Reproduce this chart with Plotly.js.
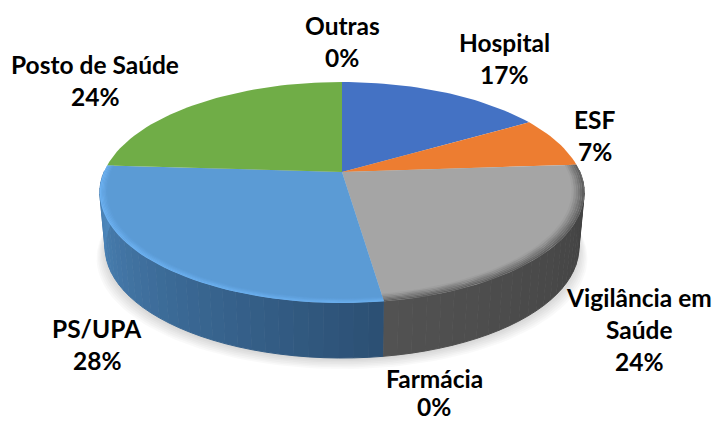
<!DOCTYPE html>
<html>
<head>
<meta charset="utf-8">
<script src="https://cdn.plot.ly/plotly-3.0.1.min.js"></script>
<style>html,body{margin:0;padding:0;background:#fff}#c{width:716px;height:423px}</style>
</head>
<body>
<div id="c"></div>
<script>
var categories = ["Outras", "Hospital", "ESF", "Vigilância em Saúde", "Farmácia", "PS/UPA", "Posto de Saúde"];
var values = [0, 16.5, 7.4, 23.8, 0, 28.3, 24];
var topColors = ["#999999", "#4472c4", "#ed7d31", "#a5a5a5", "#ffc000", "#5b9bd5", "#70ad47"];
var rimColors = [null, null, null, "#5a5a5a", null, "#6fb4f5", null];
var rimWidths = [0, 0, 0, 0.05, 0, 0.03, 0];
var wallStart = ["#555555", "#2f4f87", "#a0521c", "#3f3f3f", "#806000", "#2b4f73", "#44702b"];
var wallEnd = ["#555555", "#2f4f87", "#a0521c", "#525252", "#806000", "#4f8ac0", "#44702b"];

var hub = {x: 342, y: 172}, A = 238, B = 106.7, K = 0.1855, DEPTH = 55, SHRINK = 0.978;

function pt(deg, r) {
  var t = deg * Math.PI / 180, u = r * Math.sin(t), v = r * Math.cos(t), d = 1 + K * v;
  return [hub.x + A * u / d, hub.y - B * v / d];
}
function low(p) { return [hub.x + (p[0] - hub.x) * SHRINK, p[1] + DEPTH]; }
function hex(c) { return [1, 3, 5].map(function (i) { return parseInt(c.substr(i, 2), 16); }); }
function mix(a, b, f) {
  var x = hex(a), y = hex(b);
  return "rgb(" + x.map(function (q, i) { return Math.round(q + (y[i] - q) * f); }).join(",") + ")";
}
var traces = [];
function poly(pts, color, edge) {
  traces.push({
    type: "scatter", mode: "lines", fill: "toself", fillcolor: color, hoverinfo: "skip", showlegend: false,
    x: pts.map(function (p) { return p[0]; }), y: pts.map(function (p) { return p[1]; }),
    line: {color: edge ? color : "rgba(0,0,0,0)", width: edge ? 1 : 0}
  });
}
function arc(a0, a1, r) {
  var n = Math.max(2, Math.ceil(Math.abs(a1 - a0) / 2)), out = [];
  for (var i = 0; i <= n; i++) out.push(pt(a0 + (a1 - a0) * i / n, r));
  return out;
}

var total = values.reduce(function (s, v) { return s + v; }, 0);
var spans = [], acc = 0;
values.forEach(function (v) { spans.push([acc * 360 / total, (acc + v) * 360 / total]); acc += v; });

// soft shadow below the disc
for (var s = 0; s < 7; s++) {
  var ring = arc(0, 360, 1).map(low).map(function (p) {
    return [hub.x + (p[0] - hub.x) * (1 + s * 0.006), p[1] + 1.5 + s * 1.6];
  });
  poly(ring, "rgba(0,0,0,0.022)", false);
}
// side wall
values.forEach(function (v, i) {
  if (!v) return;
  var a0 = spans[i][0], a1 = spans[i][1], n = Math.ceil((a1 - a0) / 3);
  for (var j = 0; j < n; j++) {
    var b0 = a0 + (a1 - a0) * j / n, b1 = a0 + (a1 - a0) * (j + 1) / n;
    var p0 = pt(b0, 1), p1 = pt(b1, 1);
    if (p0[1] < hub.y && p1[1] < hub.y) continue;
    poly([p0, p1, low(p1), low(p0)], mix(wallStart[i], wallEnd[i], (j + 0.5) / n), true);
  }
});
// top faces
values.forEach(function (v, i) {
  if (!v) return;
  poly([[hub.x, hub.y]].concat(arc(spans[i][0], spans[i][1], 1)), topColors[i], false);
});
// bevel along the front rim
var RINGS = 6;
values.forEach(function (v, i) {
  if (!v || !rimColors[i]) return;
  var a0 = spans[i][0], a1 = spans[i][1], w = rimWidths[i];
  for (var k = 0; k < RINGS; k++) {
    var r0 = 1 - w * (RINGS - k) / RINGS, r1 = 1 - w * (RINGS - k - 1) / RINGS;
    var f = (k + 0.5) / RINGS;
    poly(arc(a0, a1, r0).concat(arc(a1, a0, r1)), mix(topColors[i], rimColors[i], f), false);
  }
});

var shown = values.map(function (v) { return Math.round(v) + "%"; });
var labelLines = [
  [categories[0], shown[0]],
  [categories[1], shown[1]],
  [categories[2], shown[2]],
  ["Vigilância em", "Saúde", shown[3]],
  [categories[4], shown[4]],
  [categories[5], shown[5]],
  [categories[6], shown[6]]
];
var labelAnchors = [[342, 25], [504, 42], [595, 119], [639, 297], [434, 378], [97, 328], [95, 64]];
var annotations = [];
labelLines.forEach(function (lines, i) {
  lines.forEach(function (t, j) {
    annotations.push({
      x: labelAnchors[i][0], y: Math.min(labelAnchors[i][1] + j * 32, 406), xref: "x", yref: "y", text: "<b>" + t + "</b>", showarrow: false,
      xanchor: "center", yanchor: "middle", font: {family: "Lato, sans-serif", size: 24.5, color: "#000000"}
    });
  });
});

Plotly.newPlot("c", traces, {
  width: 716, height: 423, margin: {l: 0, r: 0, t: 0, b: 0},
  paper_bgcolor: "#ffffff", plot_bgcolor: "#ffffff", showlegend: false, hovermode: false,
  xaxis: {range: [0, 716], visible: false, fixedrange: true},
  yaxis: {range: [423, 0], visible: false, fixedrange: true},
  annotations: annotations
}, {displayModeBar: false, staticPlot: true});
</script>
</body>
</html>
